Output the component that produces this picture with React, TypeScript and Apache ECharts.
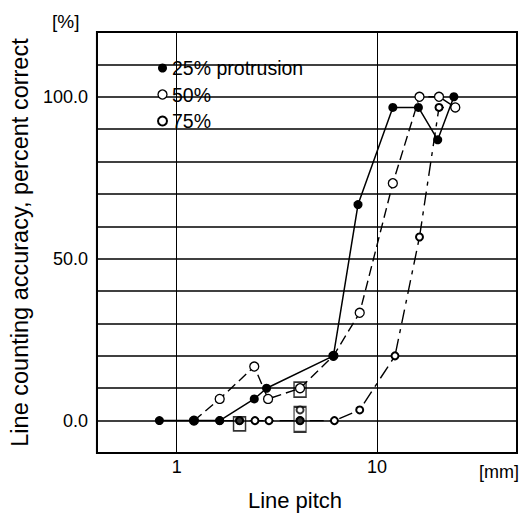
import React, { useEffect, useRef } from "react";
import * as echarts from "echarts";

// Line pitch [mm] and accuracy [%] per protrusion level
const pitch25 = [0.82, 1.22, 1.64, 2.44, 2.81, 6.06, 8.04, 12.0, 16.1, 20.1, 24.2];
const acc25 = [0, 0, 0, 6.7, 10, 20, 66.7, 96.7, 96.7, 86.7, 100];

const pitch50 = [1.22, 1.64, 2.44, 2.86, 4.13, 6.06, 8.2, 12.0, 16.3, 20.4, 24.6];
const acc50 = [0, 6.7, 16.7, 6.7, 10, 20, 33.3, 73.3, 100, 100, 96.7];

const pitch75 = [1.64, 2.06, 2.46, 2.89, 4.13, 6.13, 8.2, 12.3, 16.3, 20.4, 24.6];
const acc75 = [0, 0, 0, 0, 0, 0, 3.3, 20, 56.7, 96.7, 96.7];

// extra marks drawn inside the boxed points
const extraFilledPitch = [2.06, 4.13];
const extraFilledAcc = [0, 0];
const extra75Pitch = [4.13];
const extra75Acc = [3.3];

// boxed points
const boxPitch = [2.06, 4.13, 4.13];
const boxAcc = [-1, 0.4, 9.6];

const seriesNames = ["25% protrusion", "50%", "75%"];
const yTickLabels = [0, 50, 100];
const xTickLabels = [1, 10];

const FONT = "Liberation Sans, Arial, Helvetica, sans-serif";

const zip = (xs: number[], ys: number[]) => xs.map((x, i) => [x, ys[i]]);

export default function App() {
  const ref = useRef<HTMLDivElement>(null);

  useEffect(() => {
    document.body.style.margin = "0";
    if (!ref.current) return;
    const chart = echarts.init(ref.current, null, { renderer: "svg" });
    const boxSizes = [
      [12, 14],
      [12, 25],
      [12, 15],
    ];
    const option: any = {
      animation: false,
      backgroundColor: "#fff",
      textStyle: { fontFamily: FONT, color: "#000" },
      grid: {
        left: 91,
        right: 9,
        top: 32,
        bottom: 60,
        show: true,
        borderColor: "#000",
        borderWidth: 2,
        backgroundColor: "transparent",
      },
      legend: {
        orient: "vertical",
        left: 157,
        top: 58,
        padding: 0,
        itemWidth: 9,
        itemHeight: 9,
        itemGap: 6.5,
        selectedMode: false,
        textStyle: { fontFamily: FONT, fontSize: 19.5, color: "#000", lineHeight: 19 },
        data: [
          { name: seriesNames[0], icon: "circle", itemStyle: { color: "#000", borderWidth: 0 } },
          {
            name: seriesNames[1],
            icon: "circle",
            itemStyle: { color: "#fff", borderColor: "#000", borderWidth: 1.3 },
          },
          {
            name: seriesNames[2],
            icon: "circle",
            itemStyle: { color: "#fff", borderColor: "#000", borderWidth: 2 },
          },
        ],
      },
      xAxis: {
        type: "log",
        logBase: 10,
        min: 0.4,
        max: 50,
        axisLine: { show: false },
        axisTick: { show: false },
        axisLabel: {
          fontFamily: FONT,
          fontSize: 18,
          color: "#000",
          margin: 5,
          formatter: (v: number) => {
            const hit = xTickLabels.find((t) => Math.abs(v - t) < 1e-6 * t);
            return hit !== undefined ? String(hit) : "";
          },
        },
        splitLine: { show: true, lineStyle: { color: "#000", width: 1 } },
      },
      yAxis: {
        type: "value",
        min: -10,
        max: 120,
        interval: 10,
        name: "Line counting accuracy, percent correct",
        nameLocation: "middle",
        nameGap: 59,
        nameTextStyle: { fontFamily: FONT, fontSize: 23.5, color: "#000" },
        axisLine: { show: false },
        axisTick: { show: false },
        axisLabel: {
          fontFamily: FONT,
          fontSize: 18,
          color: "#000",
          margin: 9,
          formatter: (v: number) => {
            const hit = yTickLabels.find((t) => Math.abs(v - t) < 1e-6);
            return hit !== undefined ? hit.toFixed(1) : "";
          },
        },
        splitLine: { show: true, lineStyle: { color: "#000", width: 1.6 } },
      },
      graphic: [
        {
          type: "text",
          left: 52,
          top: 12,
          style: { text: "[%]", fontFamily: FONT, fontSize: 19, fill: "#000" },
        },
        {
          type: "text",
          left: 479,
          top: 463,
          style: { text: "[mm]", fontFamily: FONT, fontSize: 18, fill: "#000" },
        },
        {
          type: "text",
          x: 295,
          y: 500,
          style: {
            text: "Line pitch",
            fontFamily: FONT,
            fontSize: 22,
            fill: "#000",
            align: "center",
            verticalAlign: "middle",
          },
        },
      ],
      series: [
        {
          name: "boxes",
          type: "scatter",
          z: 1,
          symbol: "rect",
          data: zip(boxPitch, boxAcc).map((p, i) => ({ value: p, symbolSize: boxSizes[i] })),
          itemStyle: { color: "rgba(255,255,255,0)", borderColor: "#000", borderWidth: 1.6 },
          silent: true,
        },
        {
          name: seriesNames[0],
          type: "line",
          z: 5,
          data: zip(pitch25, acc25),
          symbol: "circle",
          symbolSize: 9,
          showAllSymbol: true,
          itemStyle: { color: "#000" },
          lineStyle: { color: "#000", width: 1.5, type: "solid" },
        },
        {
          name: seriesNames[1],
          type: "line",
          z: 4,
          data: zip(pitch50, acc50),
          symbol: "circle",
          symbolSize: 9,
          showAllSymbol: true,
          itemStyle: { color: "#fff", borderColor: "#000", borderWidth: 1.3 },
          lineStyle: { color: "#000", width: 1.4, type: [10, 5] },
        },
        {
          name: seriesNames[2],
          type: "line",
          z: 3,
          data: zip(pitch75, acc75),
          symbol: "circle",
          symbolSize: 7,
          showAllSymbol: true,
          itemStyle: { color: "#fff", borderColor: "#000", borderWidth: 2 },
          lineStyle: { color: "#000", width: 1.4, type: [14, 6, 4, 6] },
        },
        {
          name: "extra75",
          type: "scatter",
          z: 6,
          data: zip(extra75Pitch, extra75Acc),
          symbol: "circle",
          symbolSize: 7,
          itemStyle: { color: "#fff", borderColor: "#000", borderWidth: 2 },
        },
        {
          name: "extraFilled",
          type: "scatter",
          z: 7,
          data: zip(extraFilledPitch, extraFilledAcc),
          symbol: "circle",
          symbolSize: 9,
          itemStyle: { color: "#000" },
        },
      ],
    };
    chart.setOption(option);
    return () => chart.dispose();
  }, []);

  return <div ref={ref} style={{ width: 526, height: 513 }} />;
}
